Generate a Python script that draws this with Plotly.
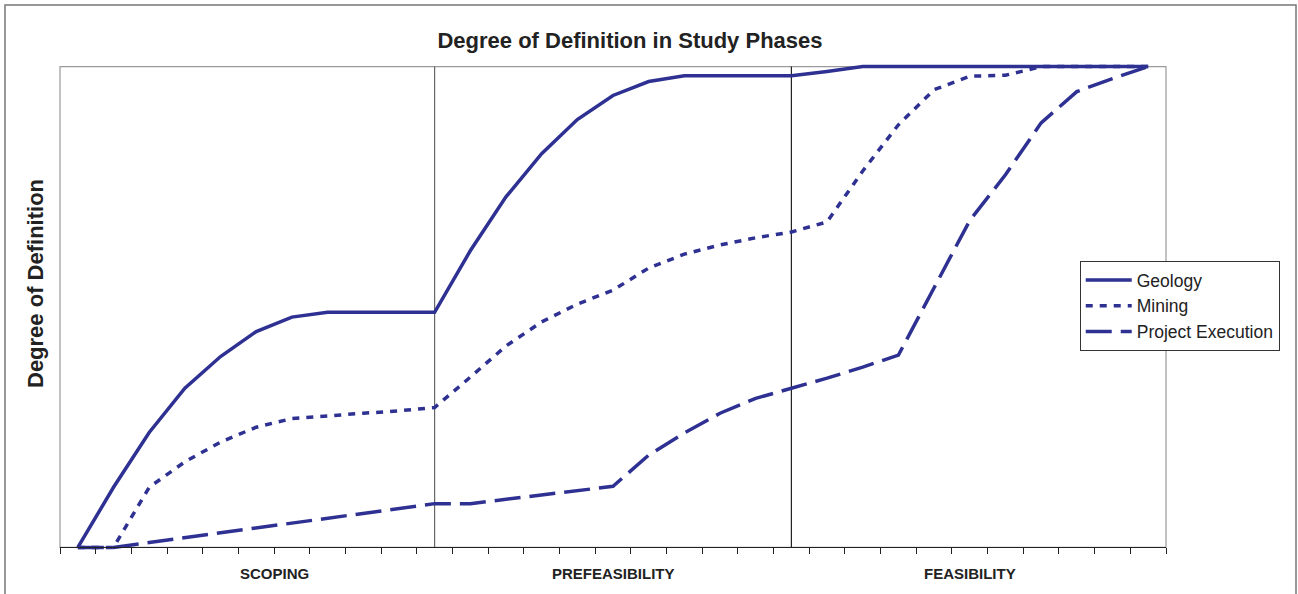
import plotly.graph_objects as go

# ---- data ----
phases = ["SCOPING", "PREFEASIBILITY", "FEASIBILITY"]
phase_centers = [5.5, 15, 25]
phase_boundaries = [10, 20]
steps = list(range(31))

geology = [0, 12.5, 23.9, 33.1, 39.7, 44.9, 47.9, 48.9, 48.9, 48.9, 48.9,
           61.7, 72.9, 81.9, 89.0, 94.0, 96.9, 98.1, 98.1, 98.1, 98.1,
           99.0, 100, 100, 100, 100, 100, 100, 100, 100, 100]
mining = [0, 0, 12.5, 17.8, 21.9, 25.0, 26.8, 27.4, 27.9, 28.4, 29.1,
          35.4, 41.9, 46.9, 50.6, 53.5, 58.1, 61.0, 62.9, 64.4, 65.6,
          67.7, 78.3, 87.9, 95.2, 98.0, 98.2, 100, 100, 100, 100]
project_execution = [0, 0, 1.0, 2.0, 3.1, 4.1, 5.1, 6.1, 7.1, 8.1, 9.1,
                     9.1, 10.0, 11.0, 11.9, 12.7, 19.2, 23.8, 27.9, 31.0, 33.1,
                     35.2, 37.5, 40.0, 54.0, 68.0, 77.5, 88.3, 94.8, 97.5, 100]

series_names = ["Geology", "Mining", "Project Execution"]
series_dash = ["solid", "7px,7px", "26px,9px"]

COLOR = "#2E3192"
TITLE_FONT = "Liberation Sans, Arial, sans-serif"

fig = go.Figure()
for name, vals, dash in zip(series_names, [geology, mining, project_execution], series_dash):
    fig.add_trace(go.Scatter(
        x=steps, y=vals, mode="lines", name=name,
        line=dict(color=COLOR, width=3.5, dash=dash),
    ))

# plot-area frame (gray) and phase boundaries
fig.add_shape(type="rect", xref="paper", yref="y", x0=0, x1=1, y0=0, y1=100,
              line=dict(color="#9a9a9a", width=1.2), layer="below")
for b, c in zip(phase_boundaries, ["#666666", "#222222"]):
    fig.add_shape(type="line", xref="x", yref="y", x0=b, x1=b, y0=0, y1=100,
                  line=dict(color=c, width=1.2), layer="below")

# outer border of the image
fig.add_shape(type="rect", xref="paper", yref="paper",
              x0=(5 - 60) / 1106, x1=(1296 - 60) / 1106, y0=-0.2, y1=(557 - 5) / 500,
              line=dict(color="#777777", width=1.5), layer="below")

for name, xc in zip(phases, phase_centers):
    fig.add_annotation(x=xc, xref="x", y=(557 - 573) / 500, yref="paper",
                       text="<b>%s</b>" % name, showarrow=False,
                       font=dict(family=TITLE_FONT, size=15, color="#222222"),
                       xanchor="center", yanchor="middle")

fig.add_annotation(x=(35 - 60) / 1106, xref="paper", y=(557 - 284) / 500, yref="paper",
                   text="<b>Degree of Definition</b>", textangle=-90, showarrow=False,
                   font=dict(family=TITLE_FONT, size=22, color="#222222"),
                   xanchor="center", yanchor="middle")

fig.update_layout(
    width=1298, height=594,
    margin=dict(l=60, r=132, t=57, b=37),
    paper_bgcolor="white", plot_bgcolor="white",
    title=dict(text="<b>Degree of Definition in Study Phases</b>",
               x=(630) / 1298, xanchor="center", xref="container",
               y=1 - 40 / 594, yanchor="middle", yref="container",
               font=dict(family=TITLE_FONT, size=22, color="#222222")),
    xaxis=dict(range=[-0.5, 30.5], tickvals=[i - 0.5 for i in range(32)],
               showticklabels=False, ticks="outside", ticklen=6, tickcolor="#222222",
               tickwidth=1.2, showgrid=False, zeroline=False, showline=True,
               linecolor="#222222", linewidth=1.2, anchor="free", position=2 / 104),
    yaxis=dict(range=[-2, 102], showticklabels=False, ticks="", showgrid=False,
               zeroline=False, showline=False),
    legend=dict(x=0.922, xanchor="left", y=(557 - 261) / 500, yref="paper", yanchor="top",
                bordercolor="#333333", borderwidth=1, bgcolor="white",
                font=dict(family="Liberation Sans, Arial, sans-serif", size=17.5, color="#222222"),
                tracegroupgap=0, itemwidth=46),
    showlegend=True,
)

fig.write_html("out.html", config={"displayModeBar": False},
               post_script="document.body.style.margin='0px';document.body.style.padding='0px';")
